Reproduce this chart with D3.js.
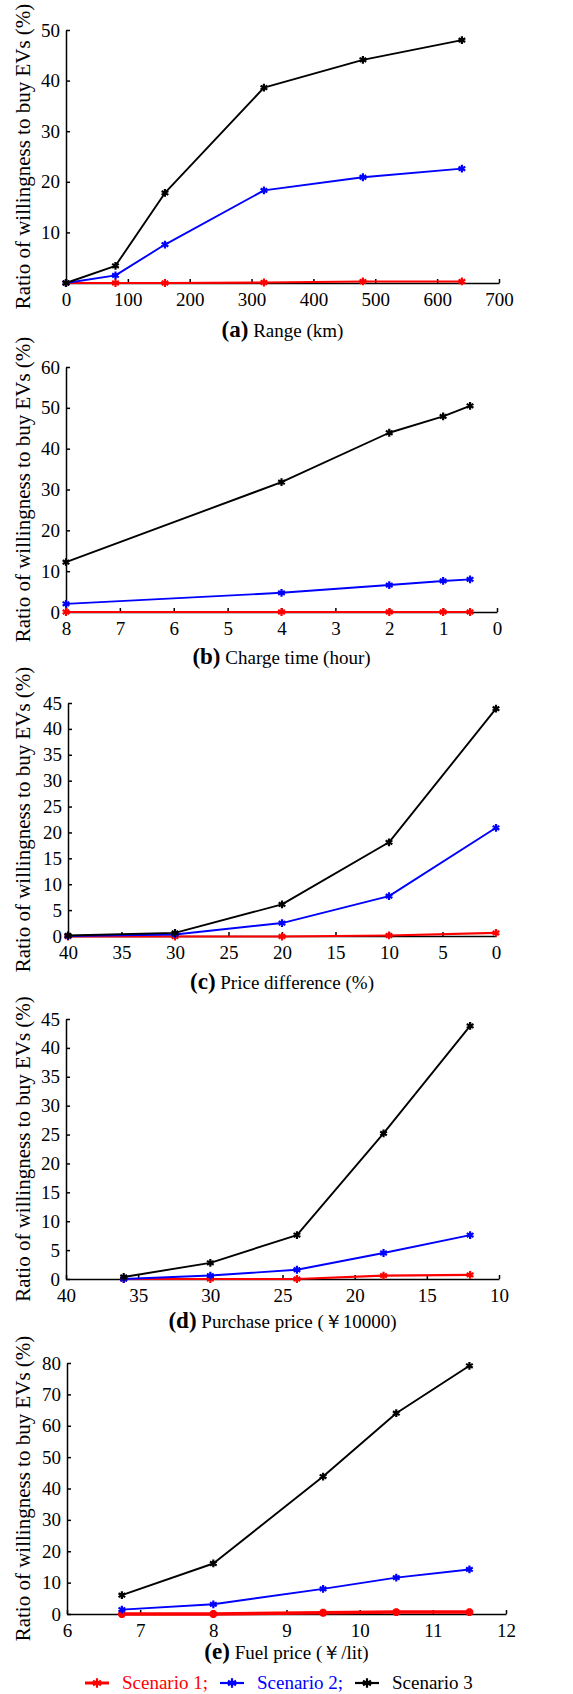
<!DOCTYPE html>
<html>
<head>
<meta charset="utf-8">
<script src="https://cdn.jsdelivr.net/npm/d3@7"></script>
<style>
  html, body { margin: 0; padding: 0; background: #fff; }
  svg { display: block; }
  .g-axis path, .g-axis line { stroke: #000; stroke-width: 1.5; }
  .g-axis text { fill: #000; }
</style>
</head>
<body>
<main></main>
<script>
const FONT = 'Liberation Serif';

// (a) range
const rangeKm = [0, 80, 160, 320, 480, 640];
const rangeS1 = [0, 0, 0, 0.1, 0.3, 0.3];
const rangeS2 = [0, 1.5, 7.6, 18.3, 20.9, 22.6];
const rangeS3 = [0, 3.4, 17.8, 38.6, 44.1, 48.0];

// (b) charge time
const chargeHours = [8, 4, 2, 1, 0.5];
const chargeS1 = [0, 0, 0, 0, 0];
const chargeS2 = [2.0, 4.7, 6.6, 7.6, 8.0];
const chargeS3 = [12.2, 31.8, 43.9, 47.9, 50.5];

// (c) price difference
const priceDiffPct = [40, 30, 20, 10, 0];
const priceDiffS1 = [-0.1, -0.1, -0.1, 0.1, 0.6];
const priceDiffS2 = [0, 0.3, 2.5, 7.7, 20.9];
const priceDiffS3 = [0.1, 0.6, 6.1, 18.1, 43.9];

// (d) purchase price
const purchasePrice = [36, 30, 24, 18, 12];
const purchaseS1 = [0, 0, 0, 0.6, 0.7];
const purchaseS2 = [0, 0.6, 1.6, 4.5, 7.6];
const purchaseS3 = [0.35, 2.8, 7.6, 25.2, 43.8];

// (e) fuel price
const fuelPrice = [6.75, 8, 9.5, 10.5, 11.5];
const fuelS1 = [0, 0, 0.4, 0.6, 0.6];
const fuelS2 = [1.4, 3.1, 8.0, 11.6, 14.2];
const fuelS3 = [6.0, 16.1, 43.8, 64.0, 79.1];

const seriesNames = ['Scenario 1;', 'Scenario 2;', 'Scenario 3'];
const seriesColors = ['#ff0000', '#0000ff', '#000000'];

const yTitle = 'Ratio of willingness to buy EVs (%)';

const panels = [
  { tag: '(a)', label: 'Range (km)', x: rangeKm, ys: [rangeS1, rangeS2, rangeS3],
    xDomain: [0, 700], xTicks: d3.range(0, 701, 100), yDomain: [0, 50], yTicks: [10, 20, 30, 40, 50],
    left: 66, right: 499, top: 30, bottom: 283, capDy: 54, redW: 2.2 },
  { tag: '(b)', label: 'Charge time (hour)', x: chargeHours, ys: [chargeS1, chargeS2, chargeS3],
    xDomain: [8, 0], xTicks: d3.range(0, 9), yDomain: [0, 60], yTicks: d3.range(0, 61, 10),
    left: 66, right: 497, top: 367, bottom: 612, capDy: 52, redW: 2.2 },
  { tag: '(c)', label: 'Price difference (%)', x: priceDiffPct, ys: [priceDiffS1, priceDiffS2, priceDiffS3],
    xDomain: [40, 0], xTicks: d3.range(0, 41, 5), yDomain: [0, 45], yTicks: d3.range(0, 46, 5),
    left: 68, right: 496, top: 703, bottom: 936, capDy: 53, redW: 2.2 },
  { tag: '(d)', label: 'Purchase price (\uFFE510000)', x: purchasePrice, ys: [purchaseS1, purchaseS2, purchaseS3],
    xDomain: [40, 10], xTicks: d3.range(10, 41, 5), yDomain: [0, 45], yTicks: d3.range(0, 46, 5),
    left: 66, right: 499, top: 1019, bottom: 1279, capDy: 49, redW: 2.2 },
  { tag: '(e)', label: 'Fuel price (\uFFE5/lit)', x: fuelPrice, ys: [fuelS1, fuelS2, fuelS3],
    xDomain: [6, 12], xTicks: d3.range(6, 13), yDomain: [0, 80], yTicks: d3.range(0, 81, 10),
    left: 67, right: 506, top: 1363, bottom: 1614, capDy: 45, redW: 3.5 }
];

const $main = d3.select('main');
const $svg = $main.append('svg').attr('width', 573).attr('height', 1694);

const marker = d3.symbol().type(d3.symbolAsterisk).size(42);
const fmt = d3.format('~g');

function drawPanel(p) {
  const $g = $svg.append('g').attr('class', 'g-panel');

  const scaleX = d3.scaleLinear().domain(p.xDomain).range([p.left, p.right]);
  const scaleY = d3.scaleLinear().domain(p.yDomain).range([p.bottom, p.top]);

  const axisX = d3.axisBottom(scaleX).tickValues(p.xTicks).tickFormat(fmt)
    .tickSizeInner(-4).tickSizeOuter(0).tickPadding(10);
  const axisY = d3.axisLeft(scaleY).tickValues(p.yTicks).tickFormat(fmt)
    .tickSizeInner(-4).tickSizeOuter(0).tickPadding(6);

  const $axisX = $g.append('g').attr('class', 'g-axis axis--x')
    .attr('transform', `translate(0, ${p.bottom})`).call(axisX);
  const $axisY = $g.append('g').attr('class', 'g-axis axis--y')
    .attr('transform', `translate(${p.left}, 0)`).call(axisY);
  [$axisX, $axisY].forEach($a => {
    $a.attr('font-family', FONT).attr('font-size', 19);
    $a.selectAll('text').attr('font-family', FONT).attr('font-size', 19);
    $a.select('.domain').attr('stroke-width', 1.8);
  });

  const line = d3.line().x(d => scaleX(d[0])).y(d => scaleY(d[1]));

  p.ys.forEach((vals, i) => {
    const pts = p.x.map((xv, j) => [xv, vals[j]]);
    const w = i === 0 ? p.redW : 1.9;
    const $s = $g.append('g').attr('class', 'g-series');
    $s.append('path').datum(pts)
      .attr('d', line).attr('fill', 'none')
      .attr('stroke', seriesColors[i]).attr('stroke-width', w)
      .attr('stroke-linejoin', 'round');
    $s.selectAll('path.mk').data(pts).enter().append('path')
      .attr('class', 'mk')
      .attr('transform', d => `translate(${scaleX(d[0])}, ${scaleY(d[1])})`)
      .attr('d', marker)
      .attr('fill', 'none')
      .attr('stroke', seriesColors[i])
      .attr('stroke-width', i === 0 ? Math.max(2.2, w) : 2.2);
  });

  // y title
  $g.append('text')
    .attr('transform', `translate(30, ${(p.top + p.bottom) / 2}) rotate(-90)`)
    .attr('text-anchor', 'middle')
    .attr('font-family', FONT)
    .attr('font-size', 21)
    .text(yTitle);

  // caption
  const $cap = $g.append('text')
    .attr('x', (p.left + p.right) / 2)
    .attr('y', p.bottom + p.capDy)
    .attr('text-anchor', 'middle')
    .attr('font-family', FONT);
  $cap.append('tspan').attr('font-weight', 'bold').attr('font-size', 23).text(p.tag);
  $cap.append('tspan').attr('font-size', 19).text('\u00A0' + p.label);
}

panels.forEach(drawPanel);

// legend
const legendX = [85, 220, 355];
const legendY = 1683;
const $legend = $svg.append('g').attr('class', 'g-legend');
seriesNames.forEach((name, i) => {
  const $item = $legend.append('g').attr('transform', `translate(${legendX[i]}, ${legendY})`);
  $item.append('line').attr('x1', 0).attr('x2', 24).attr('y1', 0).attr('y2', 0)
    .attr('stroke', seriesColors[i]).attr('stroke-width', i === 0 ? 3 : 2.2);
  $item.append('path').attr('transform', 'translate(12, 0)')
    .attr('d', d3.symbol().type(d3.symbolAsterisk).size(60)).attr('fill', 'none')
    .attr('stroke', seriesColors[i]).attr('stroke-width', 2.2);
  $item.append('text').attr('x', 37).attr('y', 6)
    .attr('font-family', FONT)
    .attr('font-size', 19).attr('fill', seriesColors[i])
    .text(name);
});
</script>
</body>
</html>
